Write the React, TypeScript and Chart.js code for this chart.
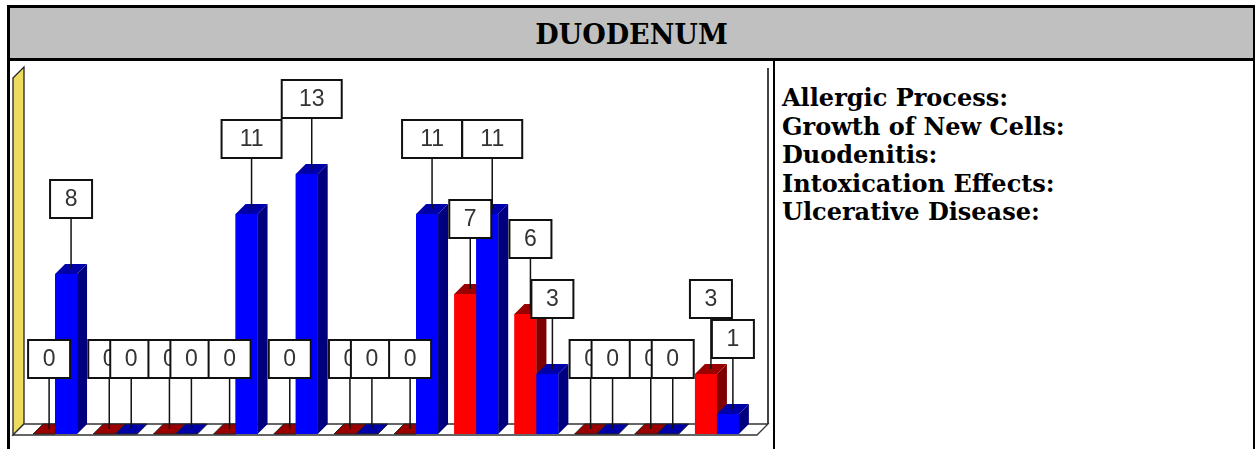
import React, { useEffect, useRef } from "react";
import { Chart, registerables } from "chart.js";

Chart.register(...registerables);

// ---- data ----
const groups = ["1", "2", "3", "4", "5", "6", "7", "8", "9", "10", "11", "12"];
const redValues = [0, 0, 0, 0, 0, 0, 0, 7, 6, 0, 0, 3];
const blueValues = [8, 0, 0, 11, 13, 0, 11, 11, 3, 0, 0, 1];
const yMaxValue = 18;
const titleText = "DUODENUM";
const legendItems = [
  "Allergic Process:",
  "Growth of New Cells:",
  "Duodenitis:",
  "Intoxication Effects:",
  "Ulcerative Disease:",
];

const D = 10; // 3D depth in px

const faceColors = [
  { front: "#FF0000", side: "#7E0000", top: "#9A0000" },
  { front: "#0000FF", side: "#00007E", top: "#0000A8" },
];

const threeDPlugin = {
  id: "threeD",
  beforeDatasetsDraw(chart: any) {
    const { ctx, chartArea, scales } = chart;
    const L = chartArea.left;
    const R = chartArea.right;
    const T = chartArea.top;
    const y0 = scales.y.getPixelForValue(0);
    ctx.save();
    // left (yellow) wall
    ctx.beginPath();
    ctx.moveTo(L - 12, T + 4);
    ctx.lineTo(L - 1, T - 7);
    ctx.lineTo(L - 1, y0 - D);
    ctx.lineTo(L - 12, y0 + 1);
    ctx.closePath();
    ctx.fillStyle = "#EEDC5E";
    ctx.fill();
    ctx.strokeStyle = "#222";
    ctx.lineWidth = 1.3;
    ctx.stroke();
    // right back edge
    ctx.beginPath();
    ctx.moveTo(R + 21, T - 6);
    ctx.lineTo(R + 21, y0 - D);
    ctx.strokeStyle = "#444";
    ctx.lineWidth = 2;
    ctx.stroke();
    // floor
    ctx.beginPath();
    ctx.moveTo(L - 12, y0 + 1);
    ctx.lineTo(R + 10, y0 + 1);
    ctx.lineTo(R + 21, y0 - D);
    ctx.lineTo(L - 1, y0 - D);
    ctx.closePath();
    ctx.fillStyle = "#FFFFFF";
    ctx.fill();
    ctx.strokeStyle = "#333";
    ctx.lineWidth = 1.3;
    ctx.stroke();
    ctx.restore();
  },
  afterDatasetsDraw(chart: any) {
    const { ctx, scales } = chart;
    const y0 = scales.y.getPixelForValue(0);
    const metas = [chart.getDatasetMeta(0), chart.getDatasetMeta(1)];
    const n = chart.data.labels.length;
    ctx.save();
    // 3D boxes, category by category
    for (let i = 0; i < n; i++) {
      for (let d = 0; d < 2; d++) {
        const el = metas[d].data[i];
        const p = el.getProps(["x", "y", "base", "width"], true);
        const xl = p.x - p.width / 2;
        const xr = p.x + p.width / 2;
        const top = p.y;
        const c = faceColors[d];
        const v = chart.data.datasets[d].data[i];
        if (v > 0) {
          ctx.fillStyle = c.front;
          ctx.fillRect(xl, top, xr - xl, y0 - top);
          ctx.beginPath();
          ctx.moveTo(xr, top);
          ctx.lineTo(xr + D, top - D);
          ctx.lineTo(xr + D, y0 - D);
          ctx.lineTo(xr, y0);
          ctx.closePath();
          ctx.fillStyle = c.side;
          ctx.fill();
        }
        ctx.beginPath();
        ctx.moveTo(xl, top);
        ctx.lineTo(xl + D, top - D);
        ctx.lineTo(xr + D, top - D);
        ctx.lineTo(xr, top);
        ctx.closePath();
        ctx.fillStyle = c.top;
        ctx.fill();
        if (v === 0) {
          ctx.strokeStyle = "#222";
          ctx.lineWidth = 1;
          ctx.stroke();
        }
      }
    }
    // value labels with leader lines
    ctx.font = "23px 'Liberation Sans', Arial, sans-serif";
    ctx.textAlign = "center";
    ctx.textBaseline = "middle";
    for (let i = 0; i < n; i++) {
      for (let d = 0; d < 2; d++) {
        const el = metas[d].data[i];
        const p = el.getProps(["x", "y", "width"], true);
        const v = chart.data.datasets[d].data[i];
        const cx = p.x + D / 2;
        const anchorY = p.y - D / 2;
        const boxBottom = p.y - 56;
        const boxH = 38;
        const txt = String(v);
        const w = 24 + 18 * txt.length;
        ctx.beginPath();
        ctx.moveTo(cx, boxBottom);
        ctx.lineTo(cx, anchorY);
        ctx.strokeStyle = "#111";
        ctx.lineWidth = 1.5;
        ctx.stroke();
        ctx.fillStyle = "#FFFFFF";
        ctx.fillRect(cx - w / 2, boxBottom - boxH, w, boxH);
        ctx.strokeStyle = "#111";
        ctx.lineWidth = 2;
        ctx.strokeRect(cx - w / 2, boxBottom - boxH, w, boxH);
        ctx.fillStyle = "#333";
        ctx.fillText(txt, cx, boxBottom - boxH / 2 + 1);
      }
    }
    ctx.restore();
  },
};

function DuodenumChart() {
  const ref = useRef<HTMLCanvasElement | null>(null);
  useEffect(() => {
    if (!ref.current) return;
    const chart = new Chart(ref.current, {
      type: "bar",
      data: {
        labels: groups,
        datasets: [
          {
            label: "red",
            data: redValues,
            backgroundColor: faceColors[0].front,
            categoryPercentage: 0.73,
            barPercentage: 1.0,
          },
          {
            label: "blue",
            data: blueValues,
            backgroundColor: faceColors[1].front,
            categoryPercentage: 0.73,
            barPercentage: 1.0,
          },
        ],
      },
      options: {
        animation: false,
        responsive: false,
        maintainAspectRatio: false,
        layout: { padding: { left: 15, right: 26, top: 13, bottom: 15 } },
        plugins: {
          legend: { display: false },
          tooltip: { enabled: false },
          title: { display: false },
        },
        scales: {
          x: { display: false, grid: { display: false } },
          y: { display: false, min: 0, max: yMaxValue, grid: { display: false } },
        },
      },
      plugins: [threeDPlugin],
    } as any);
    return () => chart.destroy();
  }, []);
  return (
    <canvas
      ref={ref}
      width={763}
      height={388}
      style={{ position: "absolute", left: 10, top: 61, width: 763, height: 388 }}
    />
  );
}

export default function App() {
  const line = (l: number, t: number, w: number, h: number, c = "#000") => (
    <div style={{ position: "absolute", left: l, top: t, width: w, height: h, background: c }} />
  );
  return (
    <div
      style={{
        position: "absolute",
        left: 0,
        top: 0,
        width: 1255,
        height: 449,
        overflow: "hidden",
        background: "#fff",
      }}
    >
      <div
        style={{
          position: "absolute",
          left: 10,
          top: 8,
          width: 1243,
          height: 50,
          background: "#C0C0C0",
          fontFamily: "'DejaVu Serif', serif",
          fontWeight: "bold",
          fontSize: 27,
          lineHeight: "50px",
          textAlign: "center",
          color: "#000",
          paddingTop: 2,
          boxSizing: "border-box",
        }}
      >
        {titleText}
      </div>
      {line(7, 5, 1248, 3)}
      {line(7, 58, 1248, 3)}
      {line(7, 5, 3, 444)}
      {line(1253, 5, 2, 444)}
      {line(773, 61, 2, 388)}
      <DuodenumChart />
      <div
        style={{
          position: "absolute",
          left: 782,
          top: 84,
          fontFamily: "'DejaVu Serif', serif",
          fontWeight: "bold",
          fontSize: 24,
          lineHeight: "28.5px",
          color: "#000",
          whiteSpace: "nowrap",
        }}
      >
        {legendItems.map((t) => (
          <div key={t}>{t}</div>
        ))}
      </div>
    </div>
  );
}
